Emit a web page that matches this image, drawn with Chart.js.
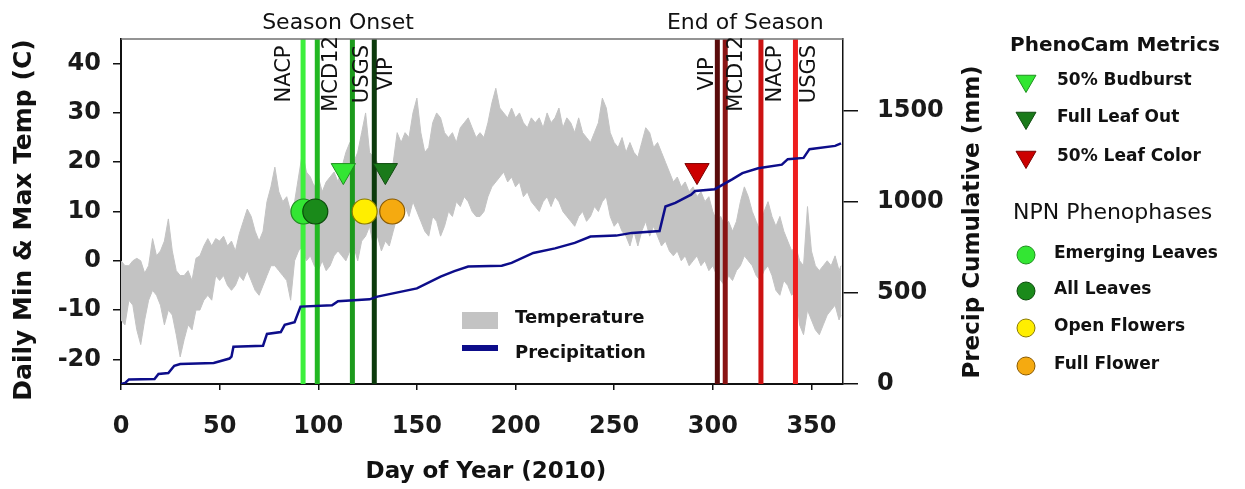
<!DOCTYPE html>
<html>
<head>
<meta charset="utf-8">
<title>Phenology 2010</title>
<script src="https://cdn.jsdelivr.net/npm/chart.js@4.4.1/dist/chart.umd.min.js"></script>
<style>
  html, body { margin: 0; padding: 0; background: #fff; }
  #wrap { width: 1245px; height: 489px; }
</style>
</head>
<body>
<div id="wrap"><canvas id="phenoChart" width="1245" height="489"></canvas></div>
<script>
// daily min / max temperature envelope (C), read every 2 days
const tempDays = [0,2,4,6,8,10,12,14,16,18,20,22,24,26,28,30,32,34,36,38,40,42,44,46,48,50,52,54,56,58,60,62,64,66,68,70,72,74,76,78,80,82,84,86,88,90,92,94,96,98,100,102,104,106,108,110,112,114,116,118,120,122,124,126,128,130,132,134,136,138,140,142,144,146,148,150,152,154,156,158,160,162,164,166,168,170,172,174,176,178,180,182,184,186,188,190,192,194,196,198,200,202,204,206,208,210,212,214,216,218,220,222,224,226,228,230,232,234,236,238,240,242,244,246,248,250,252,254,256,258,260,262,264,266,268,270,272,274,276,278,280,282,284,286,288,290,292,294,296,298,300,302,304,306,308,310,312,314,316,318,320,322,324,326,328,330,332,334,336,338,340,342,344,346,348,350,352,354,356,358,360,362,364,365];
const tempMax = [0,-1,-1,0,0.5,0,-2.5,-1,4.5,1,2,4,8.5,2,-2,-3,-3,-2,-4,0.5,1,3,4.5,3,4.5,4,5,3,4,2,5.5,8,10.5,9,6,4,6,12,15,19,14,12,13,10,12,17,22,18,17,15,17,14,16,17,18,16,19,22,24,20,22,26,30,22,21,20,17,19,16,20,26,24,26,25,30,33,26,22,23,28,30,29,26,25,26,24,27,28,29,27,25,26,25,28,32,35,31,30,29,31,29,30,28,27,29,28,29,27,30,28,29,31,27,29,28,26,29,26,25,24,26,28,33,31,26,24,23,25,22,24,22,21,24,27,26,23,24,22,20,18,16,17,15,16,14,15,13,14,12,13,10,8,9,7,8,6,8,12,15,13,10,8,6,10,12,9,7,9,6,4,2,3,0,-1,11,2,-1,-2,-1,0,-1,1,-2,-1];
const tempMin = [-12,-13,-8,-9,-14,-17,-12,-8,-6,-7,-9,-13,-10,-11,-15,-19.5,-16,-13,-14,-10,-10,-8,-7,-8,-3,-4,-3,-5,-6,-5,-3,-4,-2,-4,-6,-7,-5,-3,-1,-1,-2,-3,-4,-8,0,2,3,0,1,-1,-2,0,-2,-1,1,2,1,0,2,3,0,4,5,7,3,5,2,4,3,6,9,8,11,9,12,10,8,6,5,9,8,5,7,10,9,12,11,13,12,10,9,9,10,13,15,16,17,18,16,17,15,16,13,14,12,11,10,12,13,11,13,12,10,9,8,7,9,10,8,9,11,10,12,13,9,7,8,6,5,3,6,3,6,8,5,7,5,3,4,2,1,2,0,1,-1,0,1,-1,0,-2,-1,-3,-4,-5,-3,-4,-2,-1,1,0,-1,-3,-4,-2,-1,-3,-6,-7,-4,-5,-7,-6,-13,-15,-10,-12,-14,-15,-13,-11,-10,-9,-12,-11];

// cumulative precipitation (mm)
const precipDays = [0,2,4,17,19,24,27,30,47,55,56,57,72,74,81,83,88,91,107,110,126,130,150,162,169,176,193,198,209,220,230,238,251,259,273,276,281,289,291,301,310,315,323,335,338,346,349,362,365];
const precipMm = [0,5,25,27,55,60,100,110,115,140,150,205,210,275,285,325,340,425,432,455,465,480,525,590,620,645,650,665,720,745,775,810,815,830,840,975,995,1040,1060,1070,1125,1158,1185,1205,1235,1242,1290,1308,1322];

// remote sensing / model transition dates
const onsetNames = ['NACP', 'MCD12', 'USGS', 'VIP'];
const onsetDays = [92.3, 99.5, 117.3, 128.4];
const endNames = ['VIP', 'MCD12', 'NACP', 'USGS'];
const endDays = [302.3, 306.3, 324.4, 341.9];

// PhenoCam metrics (triangles) and NPN phenophases (circles)
const metricNames = ['50% Budburst', 'Full Leaf Out', '50% Leaf Color'];
const metricDays = [112.7, 134, 292];
const metricTemps = [18.3, 18.3, 18.3];
const phaseNames = ['Emerging Leaves', 'All Leaves', 'Open Flowers', 'Full Flower'];
const phaseDays = [92.5, 98.5, 123.5, 137.5];
const phaseTemps = [10, 10, 10, 10];

// axis ticks
const dayTicks = [0, 50, 100, 150, 200, 250, 300, 350];
const tempTicks = [-20, -10, 0, 10, 20, 30, 40];
const precipTicks = [0, 500, 1000, 1500];

// styling
const FONT = 'DejaVu Sans';
const onsetColors = ['#3cf03c', '#22b822', '#1c9a1c', '#0c3a0c'];
const endColors = ['#5a0c0c', '#8a1414', '#cc1212', '#ee1e1e'];
const onsetLabelShift = [-19, 14, 10, 12];
const endLabelShift = [-10, 11, 15, 14];
const metricFill = ['#33e633', '#1a7a1a', '#cc0000'];
const metricEdge = ['#1f8f1f', '#0f4a0f', '#7a0000'];
const phaseFill = ['#33e633', '#1a8a1a', '#ffee00', '#f5aa10'];
const phaseEdge = ['#1f8f1f', '#0a4a0a', '#8a7a00', '#8a5a00'];
const gray = '#c3c3c3';
const navy = '#0d0d8a';

const xy = (xs, ys) => xs.map((x, i) => ({x: x, y: ys[i]}));

function seasonLine(day, color) {
    return {
        type: 'line',
        data: [{x: day, y: -25}, {x: day, y: 45}],
        borderColor: color,
        borderWidth: 5,
        pointRadius: 0,
        yAxisID: 'y',
        order: 2
    };
}

const datasets = [
    {
        label: 'Tmin',
        data: xy(tempDays, tempMin),
        borderColor: gray,
        borderWidth: 1,
        pointRadius: 0,
        fill: false,
        yAxisID: 'y',
        order: 3
    },
    {
        label: 'Temperature',
        data: xy(tempDays, tempMax),
        borderColor: gray,
        backgroundColor: gray,
        borderWidth: 1,
        pointRadius: 0,
        fill: '-1',
        yAxisID: 'y',
        order: 3
    },
    {
        label: 'Precipitation',
        data: xy(precipDays, precipMm),
        borderColor: navy,
        borderWidth: 2.5,
        pointRadius: 0,
        fill: false,
        yAxisID: 'y2',
        order: 1
    }
];
onsetDays.forEach((d, i) => datasets.push(seasonLine(d, onsetColors[i])));
endDays.forEach((d, i) => datasets.push(seasonLine(d, endColors[i])));

datasets.push({
    label: 'PhenoCam',
    data: xy(metricDays, metricTemps),
    showLine: false,
    pointStyle: 'triangle',
    pointRotation: 180,
    pointRadius: 14,
    pointBackgroundColor: metricFill,
    pointBorderColor: metricEdge,
    pointBorderWidth: 1,
    yAxisID: 'y',
    order: 0
});
datasets.push({
    label: 'NPN',
    data: xy(phaseDays, phaseTemps),
    showLine: false,
    pointStyle: 'circle',
    pointRadius: 12.5,
    pointBackgroundColor: phaseFill,
    pointBorderColor: phaseEdge,
    pointBorderWidth: 1.2,
    yAxisID: 'y',
    order: 0
});

function triangle(ctx, x, y, r, fill, edge) {
    ctx.beginPath();
    ctx.moveTo(x - r * 0.866, y - r * 0.5);
    ctx.lineTo(x + r * 0.866, y - r * 0.5);
    ctx.lineTo(x, y + r);
    ctx.closePath();
    ctx.fillStyle = fill;
    ctx.fill();
    ctx.strokeStyle = edge;
    ctx.lineWidth = 1;
    ctx.stroke();
}

function circle(ctx, x, y, r, fill, edge) {
    ctx.beginPath();
    ctx.arc(x, y, r, 0, Math.PI * 2);
    ctx.fillStyle = fill;
    ctx.fill();
    ctx.strokeStyle = edge;
    ctx.lineWidth = 1;
    ctx.stroke();
}

function vtext(ctx, text, x, y) {
    ctx.save();
    ctx.translate(x, y);
    ctx.rotate(-Math.PI / 2);
    ctx.fillText(text, 0, 0);
    ctx.restore();
}

// texts, frame top and the two legends
const overlay = {
    id: 'overlay',
    afterDraw(chart) {
        const ctx = chart.ctx;
        const area = chart.chartArea;
        const xs = chart.scales.x;
        ctx.save();

        ctx.strokeStyle = '#707070';
        ctx.lineWidth = 1.5;
        ctx.beginPath();
        ctx.moveTo(area.left, area.top);
        ctx.lineTo(area.right, area.top);
        ctx.stroke();

        ctx.fillStyle = '#111';
        ctx.textAlign = 'center';
        ctx.textBaseline = 'middle';
        ctx.font = '22px "' + FONT + '"';
        ctx.fillText('Season Onset', xs.getPixelForValue(110), 23);
        ctx.fillText('End of Season', xs.getPixelForValue(316.5), 23);

        ctx.font = '21px "' + FONT + '"';
        onsetNames.forEach((n, i) => vtext(ctx, n, xs.getPixelForValue(onsetDays[i]) + onsetLabelShift[i], 74));
        endNames.forEach((n, i) => vtext(ctx, n, xs.getPixelForValue(endDays[i]) + endLabelShift[i], 74));

        // axis titles
        ctx.font = 'bold 25px "' + FONT + '"';
        vtext(ctx, 'Daily Min & Max Temp (C)', 24, 220);
        ctx.font = 'bold 23px "' + FONT + '"';
        vtext(ctx, 'Precip Cumulative (mm)', 973, 222);
        ctx.fillText('Day of Year (2010)', 486, 472);

        // legend inside plot
        ctx.fillStyle = gray;
        ctx.fillRect(462, 312, 36, 17);
        ctx.strokeStyle = navy;
        ctx.lineWidth = 6;
        ctx.beginPath();
        ctx.moveTo(462, 348);
        ctx.lineTo(498, 348);
        ctx.stroke();
        ctx.fillStyle = '#111';
        ctx.textAlign = 'left';
        ctx.font = 'bold 18px "' + FONT + '"';
        ctx.fillText('Temperature', 515, 318);
        ctx.fillText('Precipitation', 515, 353);

        // legend on the right
        ctx.font = 'bold 20px "' + FONT + '"';
        ctx.fillText('PhenoCam Metrics', 1010, 46);
        const metricY = [81, 118, 157];
        ctx.font = 'bold 17px "' + FONT + '"';
        metricNames.forEach((n, i) => {
            triangle(ctx, 1026, metricY[i], 11.5, metricFill[i], metricEdge[i]);
            ctx.fillStyle = '#111';
            ctx.fillText(n, 1057, metricY[i]);
        });
        ctx.font = '22px "' + FONT + '"';
        ctx.fillText('NPN Phenophases', 1013, 213);
        const phaseY = [254, 290, 327, 365];
        ctx.font = 'bold 17px "' + FONT + '"';
        phaseNames.forEach((n, i) => {
            circle(ctx, 1026, phaseY[i] + 1, 9, phaseFill[i], phaseEdge[i]);
            ctx.fillStyle = '#111';
            ctx.fillText(n, 1054, phaseY[i]);
        });
        ctx.restore();
    }
};

const tickFont = {family: FONT, size: 24, weight: 'bold'};

const chart = new Chart(document.getElementById('phenoChart'), {
    type: 'line',
    data: {datasets: datasets},
    options: {
        responsive: false,
        animation: false,
        devicePixelRatio: 1,
        layout: {padding: {top: 39, left: 0, right: 0, bottom: 0}},
        plugins: {legend: {display: false}, tooltip: {enabled: false}},
        elements: {line: {tension: 0}},
        scales: {
            x: {
                type: 'linear',
                min: 0,
                max: 366,
                afterBuildTicks: s => { s.ticks = dayTicks.map(v => ({value: v})); },
                afterFit: s => { s.height = 105; },
                grid: {drawOnChartArea: false, tickLength: 6, color: '#111', lineWidth: 1.5},
                border: {color: '#111', width: 2},
                ticks: {font: tickFont, color: '#1a1a1a', padding: 22, maxRotation: 0, callback: v => String(v)}
            },
            y: {
                position: 'left',
                min: -25,
                max: 45,
                afterBuildTicks: s => { s.ticks = tempTicks.map(v => ({value: v})); },
                afterFit: s => { s.width = 121; },
                grid: {drawOnChartArea: false, tickLength: 8, color: '#111', lineWidth: 1.5},
                border: {color: '#111', width: 2},
                ticks: {font: tickFont, color: '#1a1a1a', padding: 12, callback: v => String(v)}
            },
            y2: {
                position: 'right',
                min: 0,
                max: 1895,
                afterBuildTicks: s => { s.ticks = precipTicks.map(v => ({value: v})); },
                afterFit: s => { s.width = 402; },
                grid: {drawOnChartArea: false, tickLength: 15, color: '#111', lineWidth: 1.5},
                border: {color: '#111', width: 1.5},
                ticks: {font: tickFont, color: '#1a1a1a', padding: 19, callback: v => String(v)}
            }
        }
    },
    plugins: [overlay]
});
</script>
</body>
</html>
